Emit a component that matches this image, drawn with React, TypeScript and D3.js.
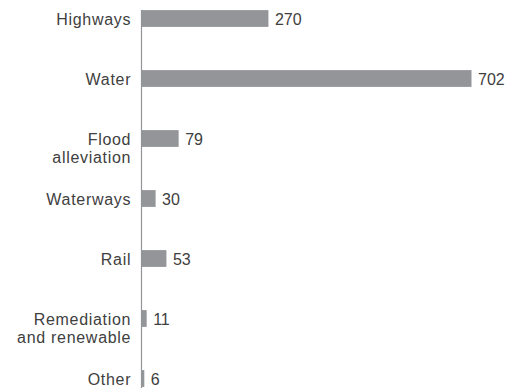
import React from "react";
import * as d3 from "d3";

const categories: string[][] = [
  ["Highways"],
  ["Water"],
  ["Flood", "alleviation"],
  ["Waterways"],
  ["Rail"],
  ["Remediation", "and renewable"],
  ["Other"],
];
const values: number[] = [270, 702, 79, 30, 53, 11, 6];

const W = 512;
const H = 388;
const axisX = 141.5;

export default function App() {
  const keys = categories.map((c) => c.join(" "));
  const x = d3.scaleLinear().domain([0, 702]).range([axisX, 471.5]);
  const y = d3
    .scaleBand<string>()
    .domain(keys)
    .range([-11.5, 408.5])
    .paddingInner(0.72)
    .paddingOuter(0.36);
  const bw = y.bandwidth();
  const font = "'Liberation Sans', Arial, Helvetica, sans-serif";
  const ls = 0.7;
  return (
    <svg
      width={W}
      height={H}
      style={{ position: "absolute", left: 0, top: 0, background: "#fff" }}
    >
      {keys.map((k, i) => {
        const y0 = y(k)!;
        const cy = y0 + bw / 2;
        return (
          <g key={k}>
            <rect
              x={x(0)}
              y={y0}
              width={x(values[i]) - x(0)}
              height={bw}
              fill="#939598"
            />
            <text
              x={x(values[i]) + 6.5}
              y={cy}
              dy="0.43em"
              fontSize={16}
              fontFamily={font}
              fill="#404040"
            >
              {values[i]}
            </text>
            {categories[i].map((line, j) => (
              <text
                key={j}
                x={130.5 + ls}
                y={cy + j * 17.5}
                dy="0.43em"
                textAnchor="end"
                fontSize={16}
                letterSpacing={ls}
                fontFamily={font}
                fill="#404040"
              >
                {line}
              </text>
            ))}
          </g>
        );
      })}
      <line
        x1={axisX}
        x2={axisX}
        y1={y(keys[0])!}
        y2={H}
        stroke="#939598"
        strokeWidth={1.2}
      />
    </svg>
  );
}
